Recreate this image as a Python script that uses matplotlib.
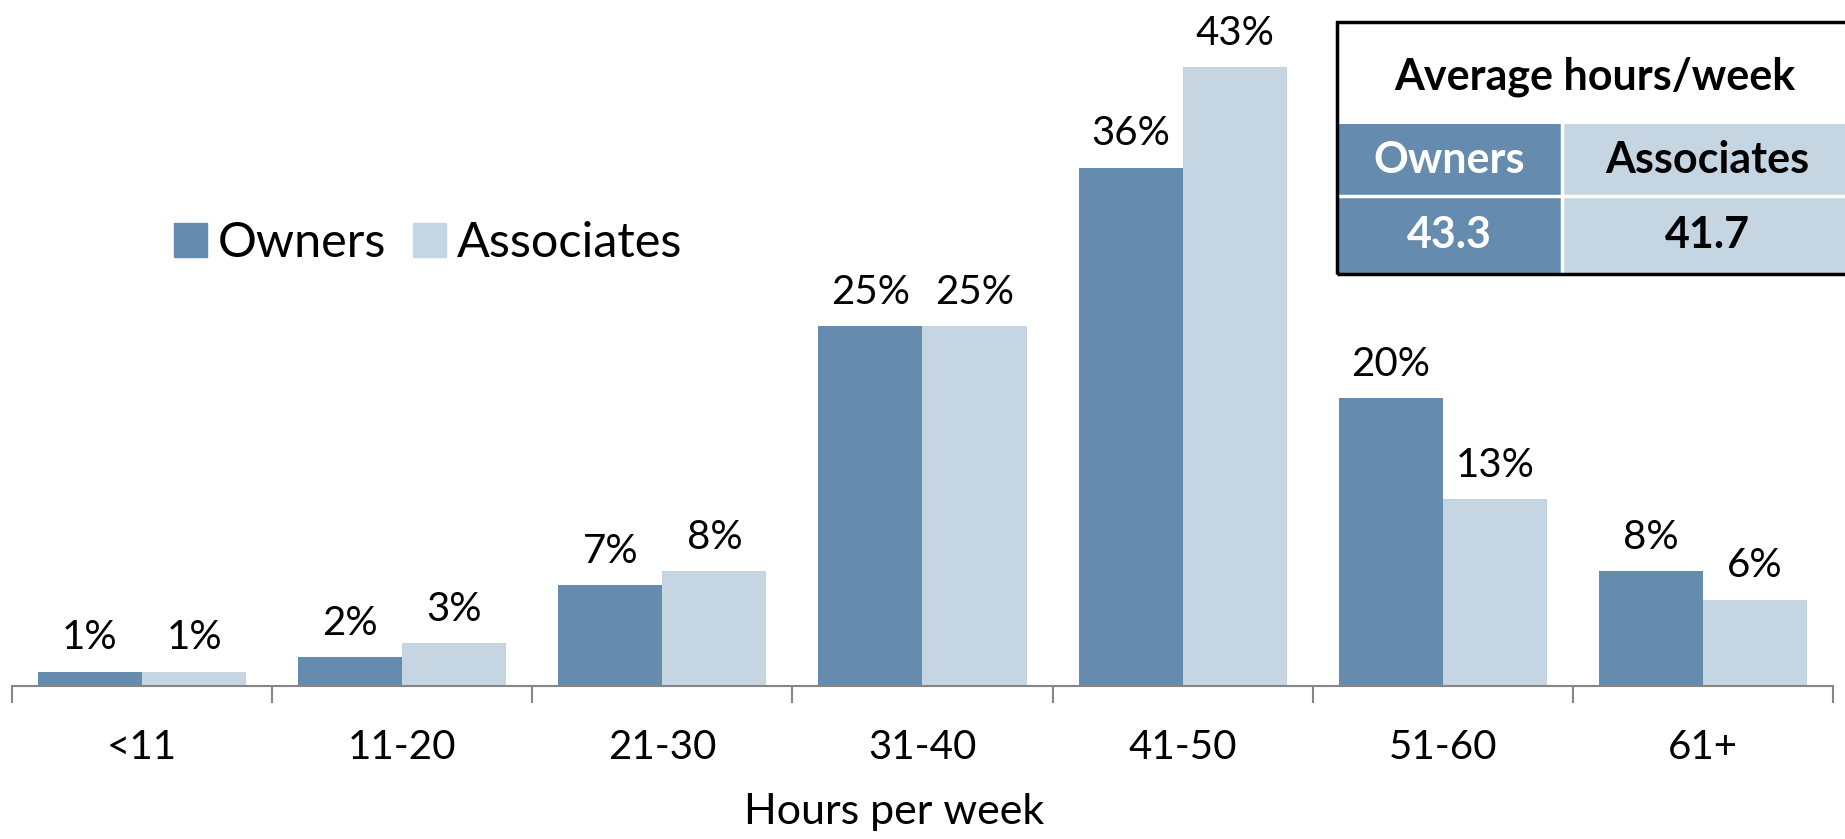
import matplotlib
matplotlib.use("Agg")
import matplotlib.pyplot as plt
import numpy as np
from matplotlib.patches import Rectangle
from matplotlib.patches import Patch

categories = ["<11", "11-20", "21-30", "31-40", "41-50", "51-60", "61+"]
owners = [1, 2, 7, 25, 36, 20, 8]
associates = [1, 3, 8, 25, 43, 13, 6]
series_names = ["Owners", "Associates"]
avg_title = "Average hours/week"
avg_values = ["43.3", "41.7"]
xlabel = "Hours per week"

C_OWN = "#658BAE"
C_ASSOC = "#C5D5E2"

plt.rcParams['font.family'] = ['Lato', 'DejaVu Sans']

W, H = 1845, 839
fig = plt.figure(figsize=(W / 100, H / 100), dpi=100)

def fx(px):
    return px / W

def fy(py):
    return 1 - py / H

ax_left, ax_right, ax_bottom, ax_top = 12, 1833, 686, 0
ax = fig.add_axes([fx(ax_left), fy(ax_bottom), fx(ax_right - ax_left), (ax_bottom - ax_top) / H])

x = np.arange(len(categories))
bw = 0.4
b1 = ax.bar(x - bw / 2, owners, bw, color=C_OWN, label=series_names[0])
b2 = ax.bar(x + bw / 2, associates, bw, color=C_ASSOC, label=series_names[1])

for bars, vals in ((b1, owners), (b2, associates)):
    for rect, v in zip(bars, vals):
        ax.annotate(f"{v}%", (rect.get_x() + rect.get_width() / 2, rect.get_height()),
                    xytext=(0, 11), textcoords="offset points", ha="center", va="bottom",
                    fontsize=29, color="black")

ax.set_xlim(-0.5, len(categories) - 0.5)
ax.set_ylim(0, 686 / 14.4)
for s in ("top", "right", "left"):
    ax.spines[s].set_visible(False)
ax.spines["bottom"].set_color("#868686")
ax.spines["bottom"].set_linewidth(1.5)
ax.set_yticks([])
ax.set_xticks(np.arange(len(categories) + 1) - 0.5, minor=False)
ax.set_xticklabels([])
ax.set_xticks(x, minor=True)
ax.set_xticklabels(categories, minor=True, fontsize=29)
ax.tick_params(axis="x", which="major", direction="out", length=12, width=1.5, color="#868686")
ax.tick_params(axis="x", which="minor", length=0, pad=31)
ax.set_xlabel(xlabel, fontsize=31, labelpad=17)
ax.xaxis.set_label_coords((894 - ax_left) / (ax_right - ax_left), -(812 - ax_bottom) / ax_bottom)
ax.xaxis.label.set_va("center")

leg = fig.legend(handles=[Patch(color=C_OWN), Patch(color=C_ASSOC)], labels=series_names,
                 loc="center left", bbox_to_anchor=(fx(130), fy(243)), ncol=2, frameon=False,
                 fontsize=35, handlelength=0.68, handleheight=0.68, handletextpad=0.22,
                 columnspacing=0.55)

# Summary table
tl, tr, tt, tb = 1337, 1853, 22, 274
r1, r2 = 124, 196
cs = 1562
tf = fig.transFigure
def rect(x0, y0, x1, y1, fc, ec="none", lw=0, z=5):
    fig.patches.append(Rectangle((fx(x0), fy(y1)), fx(x1 - x0), (y1 - y0) / H,
                                 transform=tf, facecolor=fc, edgecolor=ec, linewidth=lw, zorder=z))
rect(tl, tt, tr, tb, "white")
rect(tl, r1, cs, tb, C_OWN)
rect(cs, r1, tr, tb, C_ASSOC)
# white separators
fig.add_artist(plt.Line2D([fx(tl), fx(tr)], [fy(r2), fy(r2)], transform=tf, color="white", lw=2.5, zorder=6))
fig.add_artist(plt.Line2D([fx(cs), fx(cs)], [fy(r1), fy(tb)], transform=tf, color="white", lw=2.5, zorder=6))
rect(tl, tt, tr, tb, "none", ec="black", lw=2.5, z=7)

fs_t = 31
fig.text(fx((tl + tr) / 2), fy((tt + r1) / 2 + 4), avg_title, ha="center", va="center",
         fontsize=fs_t, fontweight="bold", color="black", zorder=8)
fig.text(fx((tl + cs) / 2), fy((r1 + r2) / 2), series_names[0], ha="center", va="center",
         fontsize=fs_t, fontweight="bold", color="white", zorder=8)
fig.text(fx((cs + tr) / 2), fy((r1 + r2) / 2), series_names[1], ha="center", va="center",
         fontsize=fs_t, fontweight="bold", color="black", zorder=8)
fig.text(fx((tl + cs) / 2), fy((r2 + tb) / 2), avg_values[0], ha="center", va="center",
         fontsize=fs_t, fontweight="bold", color="white", zorder=8)
fig.text(fx((cs + tr) / 2), fy((r2 + tb) / 2), avg_values[1], ha="center", va="center",
         fontsize=fs_t, fontweight="bold", color="black", zorder=8)

fig.savefig("out.png", dpi=100)
